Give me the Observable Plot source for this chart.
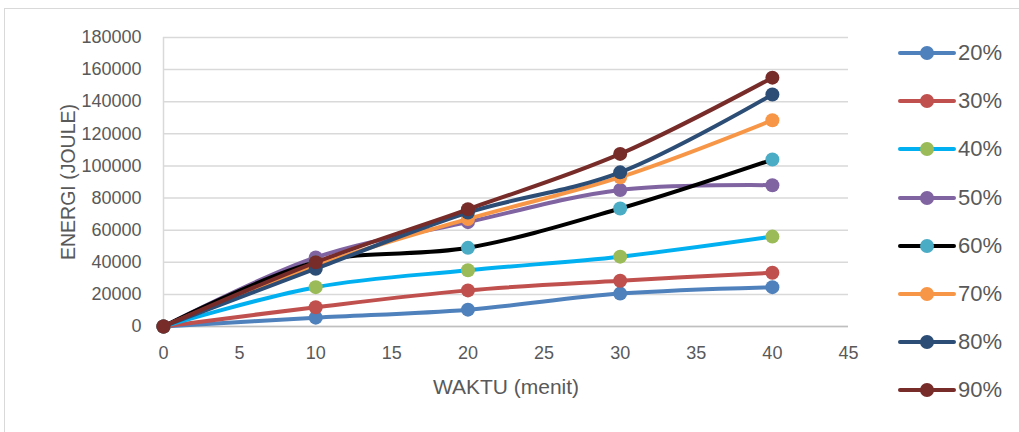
<!DOCTYPE html>
<html><head><meta charset="utf-8">
<script src="https://cdn.jsdelivr.net/npm/d3@7"></script>
<script src="https://cdn.jsdelivr.net/npm/@observablehq/plot@0.6"></script>
<style>
body{margin:0;background:#fff;font-family:"Liberation Sans",Arial,sans-serif;}
#wrap{position:relative;width:1019px;height:432px;overflow:hidden;background:#fff;}
#frame{position:absolute;left:4px;top:8px;width:1100px;height:500px;border:1px solid #d9d9d9;}
#chart{position:absolute;left:0;top:0;}
#legend{position:absolute;left:898px;top:29px;}
.row{display:flex;align-items:center;height:48.2px;}
.row span{font-size:22px;color:#595959;margin-left:2px;}
</style></head>
<body><div id="wrap"><div id="frame"></div><div id="chart"></div><div id="legend"></div></div>
<script>
const waktu = [0, 10, 20, 30, 40];
const seriesNames = ["20%", "30%", "40%", "50%", "60%", "70%", "80%", "90%"];
const s20 = [0, 5500, 10500, 20500, 24500];
const s30 = [0, 12000, 22500, 28500, 33500];
const s40 = [0, 24500, 35000, 43500, 56000];
const s50 = [0, 43000, 65000, 85000, 88000];
const s60 = [0, 40000, 49000, 73500, 104000];
const s70 = [0, 38000, 67000, 93000, 128500];
const s80 = [0, 36000, 71000, 96000, 144500];
const s90 = [0, 40000, 73000, 107500, 155000];
const seriesValues = [s20, s30, s40, s50, s60, s70, s80, s90];
const lineColors = ["#4F81BD", "#C0504D", "#00B0F0", "#8064A2", "#000000", "#F79646", "#2C4D75", "#772C2A"];
const markerColors = ["#4F81BD", "#C0504D", "#9BBB59", "#8064A2", "#4BACC6", "#F79646", "#2C4D75", "#772C2A"];
const xTicks = [0, 5, 10, 15, 20, 25, 30, 35, 40, 45];
const yTicks = [0, 20000, 40000, 60000, 80000, 100000, 120000, 140000, 160000, 180000];

const data = [];
seriesNames.forEach((name, i) => {
  waktu.forEach((w, j) => data.push({seri: name, waktu: w, energi: seriesValues[i][j], lc: lineColors[i], mc: markerColors[i]}));
});

const marks = [
  Plot.gridY(yTicks, {stroke: "#d9d9d9", strokeOpacity: 1, strokeWidth: 1.5}),
  Plot.ruleY([0], {stroke: "#bfbfbf", strokeWidth: 1.5}),
  Plot.ruleX([0], {stroke: "#d9d9d9", strokeWidth: 1.5}),
  Plot.axisY({ticks: yTicks, tickSize: 0, tickPadding: 22, tickFormat: d3.format("d"),
    label: "ENERGI (JOULE)", labelAnchor: "center", labelArrow: "none", labelOffset: 102}),
  Plot.axisX({ticks: xTicks, tickSize: 0, tickPadding: 20, tickFormat: d3.format("d"),
    label: "WAKTU (menit)", labelAnchor: "center", labelArrow: "none", labelOffset: 67})
];
seriesNames.forEach(name => {
  const sub = data.filter(d => d.seri === name);
  marks.push(Plot.line(sub, {x: "waktu", y: "energi", stroke: "lc", strokeWidth: 4, curve: "catmull-rom"}));
  marks.push(Plot.dot(sub, {x: "waktu", y: "energi", fill: "mc", r: 7}));
});

const chart = Plot.plot({
  width: 1019, height: 432,
  marginLeft: 163, marginRight: 171, marginTop: 37, marginBottom: 106,
  x: {domain: [0, 45]},
  y: {domain: [0, 180000]},
  color: {type: "identity"},
  style: {fontFamily: "'Liberation Sans', Arial, sans-serif", fontSize: "18px", color: "#595959", background: "transparent"},
  marks
});
document.getElementById("chart").appendChild(chart);
d3.select(chart).selectAll('[aria-label="x-axis label"] text').style("font-size", "21px");
d3.select(chart).selectAll('[aria-label="y-axis label"] text').style("font-size", "19.5px");

const legend = document.getElementById("legend");
seriesNames.forEach((name, i) => {
  const row = document.createElement("div");
  row.className = "row";
  row.innerHTML = `<svg width="58" height="20"><line x1="2" x2="56" y1="10" y2="10" stroke="${lineColors[i]}" stroke-width="4" stroke-linecap="round"/><circle cx="29" cy="10" r="7" fill="${markerColors[i]}"/></svg><span>${name}</span>`;
  legend.appendChild(row);
});
</script>
</body></html>
